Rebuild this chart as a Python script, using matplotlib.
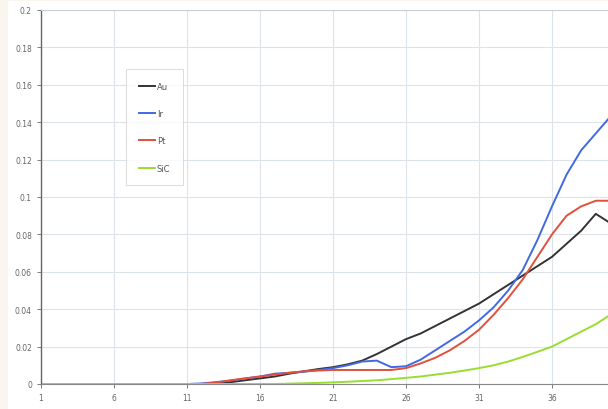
import numpy as np
import matplotlib.pyplot as plt
from matplotlib.patches import Rectangle

x = list(range(1, 41))

au = [0]*12 + [0.0005, 0.001, 0.002, 0.003, 0.004, 0.0055, 0.0068, 0.008,
               0.009, 0.0105, 0.0125, 0.016, 0.02, 0.024, 0.027, 0.031, 0.035, 0.039,
               0.043, 0.048, 0.053, 0.058, 0.063, 0.068, 0.075, 0.082, 0.091, 0.086]
ir = [0]*11 + [0.0003, 0.001, 0.0018, 0.003, 0.004, 0.0055, 0.006, 0.0065, 0.0075,
               0.0085, 0.01, 0.012, 0.0125, 0.009, 0.0095, 0.013, 0.018, 0.023, 0.028,
               0.034, 0.041, 0.05, 0.061, 0.077, 0.095, 0.112, 0.125, 0.134, 0.143]
pt = [0]*12 + [0.0008, 0.002, 0.003, 0.004, 0.005, 0.006, 0.0068, 0.0072,
               0.0075, 0.0075, 0.0075, 0.0075, 0.0075, 0.0085, 0.011, 0.014, 0.018, 0.023,
               0.029, 0.037, 0.046, 0.056, 0.068, 0.08, 0.09, 0.095, 0.098, 0.098]
sic = [0]*17 + [0.0002, 0.0004, 0.0006, 0.0009, 0.0012, 0.0016, 0.002, 0.0026,
                0.0033, 0.004, 0.005, 0.006, 0.0072, 0.0085, 0.01, 0.012, 0.0145,
                0.0172, 0.02, 0.024, 0.028, 0.032, 0.037]

yticks = [0, 0.02, 0.04, 0.06, 0.08, 0.1, 0.12, 0.14, 0.16, 0.18, 0.2]
ylabels = ["0", "0.02", "0.04", "0.06", "0.08", "0.1",
           "0.12", "0.14", "0.16", "0.18", "0.2"]

series = [("Au", au, "#333333"), ("Ir", ir, "#4169e1"),
          ("Pt", pt, "#e0503c"), ("SiC", sic, "#99dd33")]

fig = plt.figure(figsize=(6.08, 4.10), dpi=100, facecolor="#faf5ee")
# white chart area, cream strip on left and top
fig.patches.append(Rectangle((8/608, 0), 1, 1 - 2/410, transform=fig.transFigure,
                             facecolor="white", edgecolor="none", zorder=-10))

ax = fig.add_axes([41/608, 25/410, 567/608, 374/410])
ax.set_zorder(5)
ax.set_facecolor("white")

for name, vals, col in series:
    ax.plot(x, vals, color=col, lw=1.4, label=name)

ax.set_xlim(1, 1 + 567/14.6)
ax.set_ylim(0, 0.2)
ax.set_xticks(range(1, 40, 5))
ax.set_yticks(yticks, ylabels)
ax.grid(True, color="#dce4ea", lw=0.8)
ax.set_axisbelow(True)
ax.tick_params(labelsize=5.5, colors="#666666", length=3, width=0.6)
ax.spines["right"].set_visible(False)
ax.spines["top"].set_color("#c8d0d6")
ax.spines["left"].set_color("#666666")
ax.spines["bottom"].set_color("#888888")
ax.spines["left"].set_linewidth(1.0)

leg = ax.legend(loc="upper left", bbox_to_anchor=(85/567, 1 - 59/374), fontsize=6,
                frameon=True, fancybox=False, edgecolor="#cccccc", handlelength=2.0,
                handletextpad=0.2, labelspacing=2.2, borderpad=1.5, borderaxespad=0)
leg.get_frame().set_linewidth(0.6)
for t in leg.get_texts():
    t.set_color("#555555")

plt.savefig("out.png", dpi=100, facecolor=fig.get_facecolor())
